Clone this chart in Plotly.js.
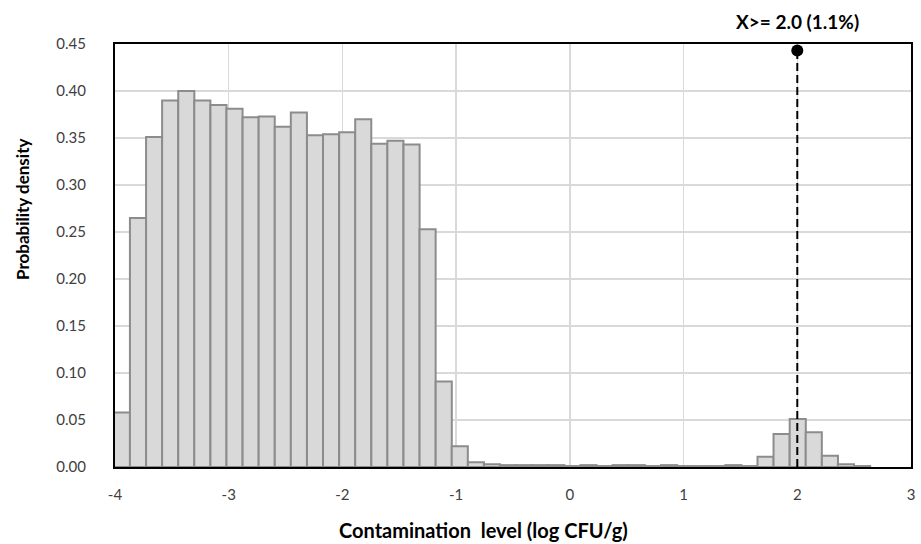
<!DOCTYPE html>
<html>
<head>
<meta charset="utf-8">
<script src="https://cdn.plot.ly/plotly-3.0.1.min.js"></script>
<style>html,body{margin:0;padding:0;background:#fff;}#chart{width:921px;height:544px;}</style>
</head>
<body>
<div id="chart"></div>
<script>
// Bin centres (log CFU/g)
const binCenters = [-3.939,-3.798,-3.656,-3.515,-3.373,-3.232,-3.090,-2.949,-2.807,-2.666,
  -2.524,-2.383,-2.241,-2.100,-1.958,-1.817,-1.675,-1.534,-1.392,-1.251,
  -1.109,-0.968,-0.826,-0.685,-0.543,-0.402,-0.260,-0.119,0.023,0.164,
  0.306,0.447,0.589,0.730,0.872,1.013,1.155,1.296,1.438,1.579,
  1.721,1.862,2.004,2.145,2.287,2.428,2.570];
// Probability density per bin
const density = [0.058,0.265,0.351,0.390,0.400,0.390,0.385,0.381,0.372,0.373,
  0.362,0.377,0.353,0.354,0.356,0.370,0.344,0.347,0.343,0.253,
  0.091,0.022,0.005,0.003,0.002,0.002,0.002,0.002,0.001,0.002,
  0.001,0.002,0.002,0.001,0.002,0.001,0.001,0.001,0.002,0.001,
  0.011,0.035,0.051,0.037,0.012,0.003,0.001];
const binWidth = 0.1415;
// Threshold marker
const thresholdX = [2.0, 2.0];
const thresholdY = [0.0, 0.443];
const thresholdLabel = "X>= 2.0 (1.1%)";
const xTicks = [-4,-3,-2,-1,0,1,2,3];
const yTicks = [0,0.05,0.10,0.15,0.20,0.25,0.30,0.35,0.40,0.45];

const FONT = "Lato, 'Open Sans', sans-serif";

const traces = [
  {
    type: 'bar',
    x: binCenters,
    y: density,
    width: binCenters.map(() => binWidth),
    marker: {color: '#d9d9d9', line: {color: '#8c8c8c', width: 2}},
    hoverinfo: 'x+y',
    showlegend: false
  },
  {
    type: 'scatter',
    mode: 'lines',
    x: thresholdX,
    y: thresholdY,
    line: {color: '#000000', width: 2, dash: '8px,4px'},
    showlegend: false,
    cliponaxis: false
  },
  {
    type: 'scatter',
    mode: 'markers',
    x: [thresholdX[1]],
    y: [thresholdY[1]],
    marker: {color: '#000000', size: 12},
    showlegend: false,
    cliponaxis: false
  }
];

const layout = {
  width: 921,
  height: 544,
  margin: {l: 115, r: 10, t: 44, b: 77},
  paper_bgcolor: '#ffffff',
  plot_bgcolor: '#ffffff',
  bargap: 0,
  font: {family: FONT, size: 15, color: '#404040'},
  xaxis: {
    range: [-4, 3],
    tickvals: xTicks,
    ticktext: xTicks.map(v => String(v)),
    showgrid: true,
    gridcolor: '#d9d9d9',
    gridwidth: 1.5,
    zeroline: false,
    showline: true,
    linecolor: '#000000',
    linewidth: 2,
    mirror: true,
    layer: 'below traces',
    ticks: '',
    ticklabelstandoff: 13,
    tickfont: {family: FONT, size: 15, color: '#404040'}
  },
  yaxis: {
    range: [0, 0.45],
    tickvals: yTicks,
    ticktext: yTicks.map(v => v.toFixed(2)),
    showgrid: true,
    gridcolor: '#d9d9d9',
    gridwidth: 1.5,
    zeroline: false,
    showline: true,
    linecolor: '#000000',
    linewidth: 2,
    mirror: true,
    layer: 'below traces',
    ticks: '',
    ticklabelstandoff: 24,
    tickfont: {family: FONT, size: 15, color: '#404040'}
  },
  annotations: [
    {
      text: '<b>' + thresholdLabel + '</b>',
      x: thresholdX[1], xref: 'x', xanchor: 'center',
      y: 21, yref: 'paper', yanchor: 'middle',
      showarrow: false,
      font: {family: FONT, size: 19, color: '#000000'}
    },
    {
      text: '<b>Contamination  level (log CFU/g)</b>',
      x: 483, xref: 'paper', xanchor: 'center',
      y: 530, yref: 'paper', yanchor: 'middle',
      showarrow: false,
      font: {family: FONT, size: 20, color: '#000000'}
    },
    {
      text: '<b>Probability density</b>',
      x: 22, y: 210, xanchor: 'center', yanchor: 'middle',
      showarrow: false,
      textangle: -90,
      font: {family: FONT, size: 17, color: '#000000'}
    }
  ]
};

// convert pixel-positioned annotations to paper coords
const plotW = 921 - 115 - 10, plotH = 544 - 44 - 77;
layout.annotations[0].y = 1 + (44 - 21) / plotH;
layout.annotations[1].x = (483 - 115) / plotW;
layout.annotations[1].y = -(530 - (544 - 77)) / plotH;
layout.annotations[2].xref = 'paper';
layout.annotations[2].yref = 'paper';
layout.annotations[2].x = (22 - 115) / plotW;
layout.annotations[2].y = 1 - (210 - 44) / plotH;

Plotly.newPlot('chart', traces, layout, {displayModeBar: false, staticPlot: true});
</script>
</body>
</html>
